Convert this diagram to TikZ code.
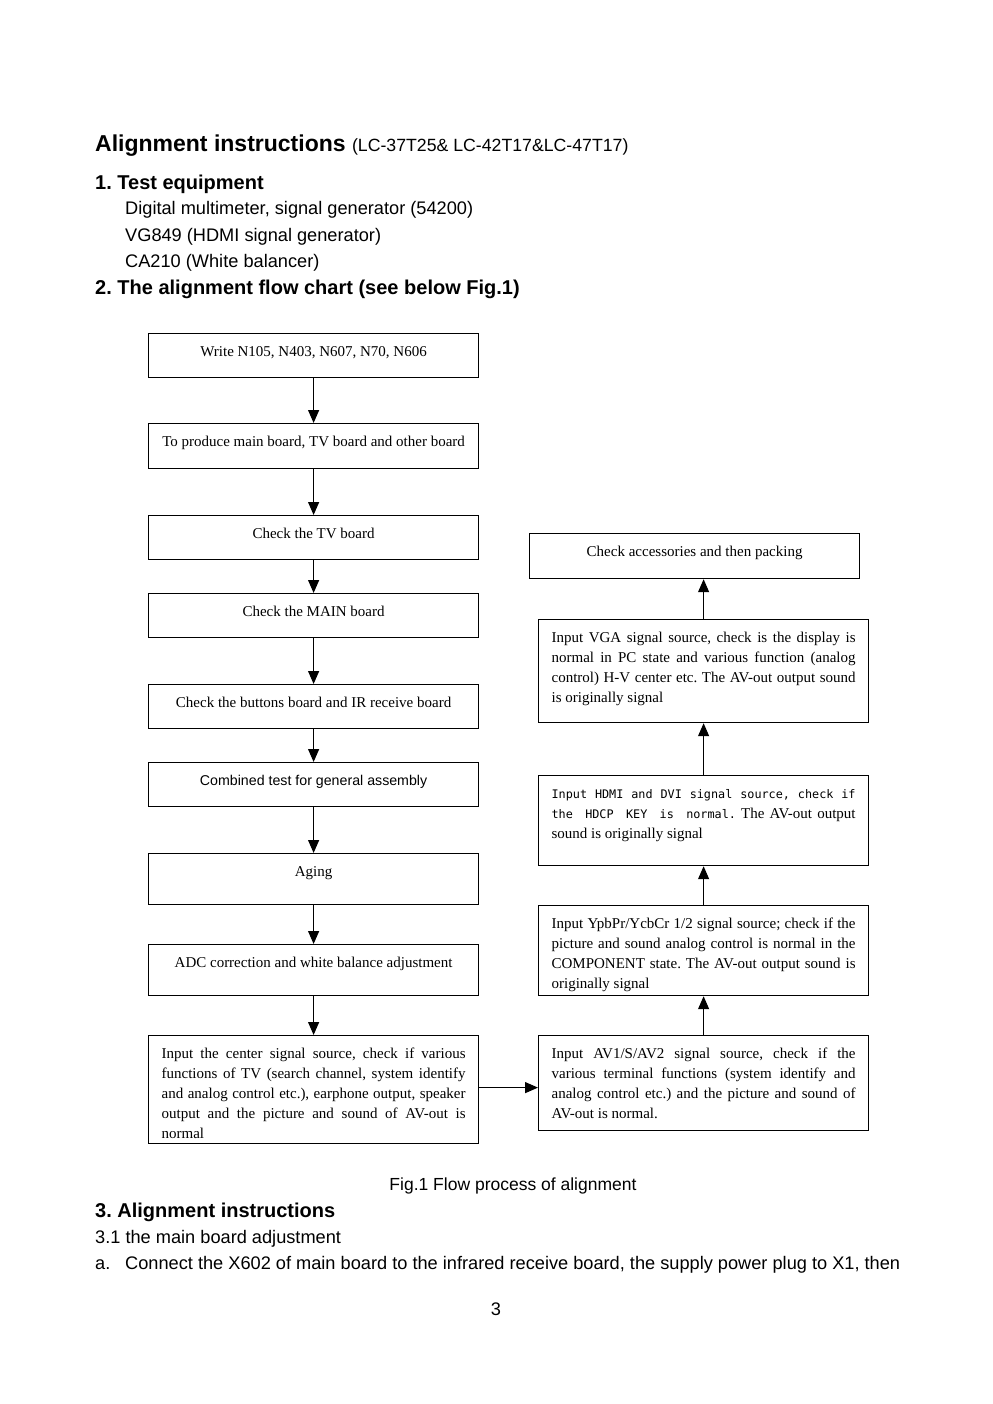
\documentclass[tikz,border=0pt]{standalone}
\usepackage{fontspec}
\setmainfont{Liberation Serif}
\setsansfont{Liberation Sans}
\newfontfamily\hdmifont{DejaVu Sans Mono}[WordSpace={1,2,0.3}]
\usetikzlibrary{arrows.meta}
\frenchspacing

\newcommand{\boxfont}{\fontsize{15bp}{20bp}\selectfont}
\newcommand{\celltext}[2]{\parbox[c][#1][t]{304bp}{\boxfont\hyphenpenalty=10000\vspace*{9bp}\strut #2\par}}
\newcommand{\cellmid}[2]{\parbox[c][#1][t]{304bp}{\boxfont\centering\vspace*{9bp}\strut #2\par}}

\tikzset{
  stepbox/.style={draw=black, line width=1.2bp, inner xsep=13bp, inner ysep=0pt, anchor=north west},
  flow/.style={-{Triangle[length=13bp,width=11bp]}, line width=1.2bp},
  para/.style={anchor=base west, inner sep=0pt, font=\sffamily\fontsize{18.2bp}{24bp}\selectfont},
  head/.style={anchor=base west, inner sep=0pt, font=\sffamily\bfseries\fontsize{20bp}{24bp}\selectfont}
}

\begin{document}
\begin{tikzpicture}[x=1bp, y=-1bp]
    \fill[white] (0,0) rectangle (992,1404);
    \useasboundingbox (0,0) rectangle (992,1404);

    % text above the chart
    \node[anchor=base west, inner sep=0pt] at (95,152) (title) {\sffamily\bfseries\fontsize{23bp}{28bp}\selectfont Alignment instructions \mdseries\fontsize{17.7bp}{21bp}\selectfont(LC-37T25\& LC-42T17\&LC-47T17)};
    \node[head] at (95,190) (equip) {1. Test equipment};
    \node[para] at (125,215) (equipa) {Digital multimeter, signal generator (54200)};
    \node[para] at (125,242) (equipb) {VG849 (HDMI signal generator)};
    \node[para] at (125,268) (equipc) {CA210 (White balancer)};
    \node[head] at (95,294) (chart) {2. The alignment flow chart (see below Fig.1)};

    % left column
    \node[stepbox] at (148,333) (write) {\cellmid{44bp}{Write N105, N403, N607, N70, N606}};
    \node[stepbox] at (148,423) (produce) {\cellmid{45bp}{To produce main board, TV board and other board}};
    \node[stepbox] at (148,515) (tvboard) {\cellmid{44bp}{Check the TV board}};
    \node[stepbox] at (148,593) (mainboard) {\cellmid{44bp}{Check the MAIN board}};
    \node[stepbox] at (148,684) (buttons) {\cellmid{44bp}{Check the buttons board and IR receive board}};
    \node[stepbox] at (148,762) (combined) {\cellmid{44bp}{\sffamily\fontsize{14.2bp}{20bp}\selectfont Combined test for general assembly}};
    \node[stepbox] at (148,853) (aging) {\cellmid{51bp}{Aging}};
    \node[stepbox] at (148,944) (adc) {\cellmid{51bp}{ADC correction and white balance adjustment}};
    \node[stepbox] at (148,1035) (center) {\celltext{108bp}{Input the center signal source, check if various\linebreak functions of TV (search channel, system identify\linebreak and analog control etc.), earphone output, speaker\linebreak output and the picture and sound of AV-out is\linebreak normal}};

    % right column
    \node[stepbox] at (538,1035) (av) {\celltext{95bp}{Input AV1/S/AV2 signal source, check if the\linebreak various terminal functions (system identify and\linebreak analog control etc.) and the picture and sound of\linebreak AV-out is normal.}};
    \node[stepbox] at (538,905) (component) {\celltext{90bp}{Input YpbPr/YcbCr 1/2 signal source; check if the\linebreak picture and sound analog control is normal in the\linebreak COMPONENT state. The AV-out output sound is\linebreak originally signal}};
    \node[stepbox] at (538,775) (hdmi) {\celltext{90bp}{{\hdmifont\fontsize{11.8bp}{20bp}\selectfont Input HDMI and DVI signal source, check if\linebreak the HDCP KEY is normal.} The AV-out output\linebreak sound is originally signal}};
    \node[stepbox] at (538,619) (vga) {\celltext{103bp}{Input VGA signal source, check is the display is\linebreak normal in PC state and various function (analog\linebreak control) H-V center etc. The AV-out output sound\linebreak is originally signal}};
    \node[stepbox] at (529,533) (packing) {\cellmid{45bp}{Check accessories and then packing}};

    % arrows
    \draw[flow] (write) -- (produce);
    \draw[flow] (produce) -- (tvboard);
    \draw[flow] (tvboard) -- (mainboard);
    \draw[flow] (mainboard) -- (buttons);
    \draw[flow] (buttons) -- (combined);
    \draw[flow] (combined) -- (aging);
    \draw[flow] (aging) -- (adc);
    \draw[flow] (adc) -- (center);
    \draw[flow] (center.east) ++(0,-2) coordinate (cout) -- (cout -| av.west);
    \draw[flow] (av) -- (component);
    \draw[flow] (component) -- (hdmi);
    \draw[flow] (hdmi) -- (vga);
    \draw[flow] (vga.north) -- (vga.north |- packing.south);

    % text below the chart
    \node[anchor=base, inner sep=0pt, font=\sffamily\fontsize{17.5bp}{21bp}\selectfont] at (513,1190) (caption) {Fig.1 Flow process of alignment};
    \node[head] at (95,1217) (instr) {3. Alignment instructions};
    \node[para] at (95,1243) (mainadj) {3.1 the main board adjustment};
    \node[para] at (95,1269) (stepa) {\makebox[30bp][l]{a.}Connect the X602 of main board to the infrared receive board, the supply power plug to X1, then};
    \node[anchor=base, inner sep=0pt, font=\sffamily\fontsize{18.2bp}{24bp}\selectfont] at (496,1315) (pagenum) {3};
\end{tikzpicture}
\end{document}
